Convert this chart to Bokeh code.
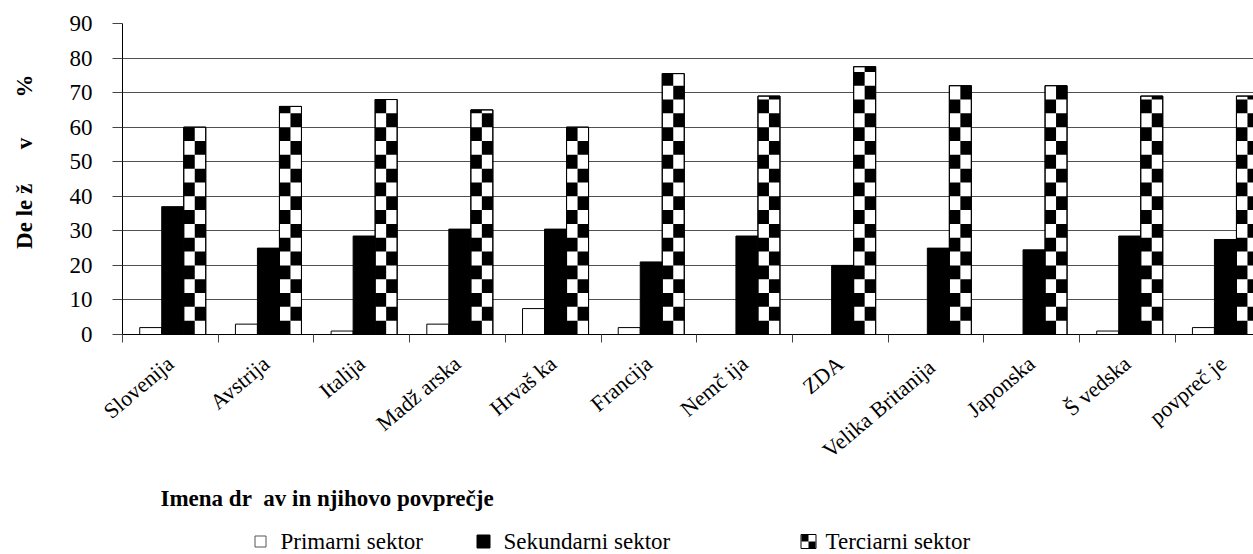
import numpy as np
from bokeh.plotting import figure
from bokeh.models import FixedTicker, Range1d
from bokeh.layouts import column
from bokeh.embed import file_html
from bokeh.resources import INLINE
from bokeh.core.properties import value

# ---------------- data ----------------
drzave = ["Slovenija", "Avstrija", "Italija", "Madž arska", "Hrvaš ka", "Francija",
          "Nemč ija", "ZDA", "Velika  Britanija", "Japonska", "Š vedska", "povpreč je"]
primarni = [2, 3, 1, 3, 7.5, 2, 0, 0, 0, 0, 1, 2]
sekundarni = [37, 25, 28.5, 30.5, 30.5, 21, 28.5, 20, 25, 24.5, 28.5, 27.5]
terciarni = [60, 66, 68, 65, 60, 75.5, 69, 77.5, 72, 72, 69, 69]
y_ticks = [0, 10, 20, 30, 40, 50, 60, 70, 80, 90]
legend_labels = ["Primarni sektor", "Sekundarni sektor", "Terciarni sektor"]
x_title = "Imena dr\u00a0\u00a0av in njihovo povprečje"
y_title = "\u00a0" * 6 + "De le ž" + "\u00a0" * 6 + "v" + "\u00a0" * 7 + "%"

FONT = "'Liberation Serif', serif"
W = 1253
FRAME_LEFT = 122
PX_PER_CAT = 95.7
n = len(drzave)
x_end = (W - FRAME_LEFT) / PX_PER_CAT

H1 = 476
p = figure(width=W, height=H1, x_range=Range1d(0, x_end), y_range=Range1d(0, 90),
           output_backend="svg", toolbar_location=None,
           min_border_left=FRAME_LEFT, min_border_right=0, min_border_top=23,
           min_border_bottom=H1 - 334)
p.outline_line_color = None

idx = np.arange(n)
bw = 0.23
p.vbar(x=idx + 0.295, top=primarni, width=bw, fill_color="white", line_color="black", line_width=1)
p.vbar(x=idx + 0.525, top=sekundarni, width=bw, fill_color="black", line_color="black", line_width=1)
xt = idx + 0.755
p.vbar(x=xt, top=terciarni, width=bw, fill_color="white", line_color="black", line_width=1)

# checker cells of the tertiary bars, derived from the values
row_h = 4.0
L, R, B, T = [], [], [], []
for c, v in zip(xt, terciarni):
    k = 0
    while k * row_h < v:
        b = k * row_h
        t = min(b + row_h, v)
        if k % 2 == 0:
            L.append(c - bw / 2); R.append(c)
        else:
            L.append(c); R.append(c + bw / 2)
        B.append(b); T.append(t)
        k += 1
p.quad(left=L, right=R, bottom=B, top=T, fill_color="black", line_color=None)
p.vbar(x=xt, top=terciarni, width=bw, fill_color=None, line_color="black", line_width=1)

# axes
p.xgrid.visible = False
p.ygrid.ticker = FixedTicker(ticks=y_ticks)
p.ygrid.grid_line_color = "#505050"
p.ygrid.grid_line_width = 1

p.yaxis.ticker = FixedTicker(ticks=y_ticks)
p.yaxis.axis_line_color = "black"
p.yaxis.major_tick_out = 10
p.yaxis.major_tick_in = 0
p.yaxis.major_tick_line_color = "#444444"
p.yaxis.minor_tick_line_color = None
p.yaxis.major_label_text_font = FONT
p.yaxis.major_label_text_font_size = "23px"
p.yaxis.major_label_text_color = "black"
p.yaxis.major_label_standoff = 20
p.yaxis.axis_label = y_title
p.yaxis.axis_label_text_font = FONT
p.yaxis.axis_label_text_font_size = "23px"
p.yaxis.axis_label_text_font_style = "bold"
p.yaxis.axis_label_text_color = "black"
p.yaxis.axis_label_standoff = 30

p.xaxis.ticker = FixedTicker(ticks=[float(i) + 0.5 for i in range(n)],
                             minor_ticks=[float(i) for i in range(n + 1)])
p.xaxis.major_label_overrides = {float(i) + 0.5: name for i, name in enumerate(drzave)}
p.xaxis.axis_line_color = "black"
p.xaxis.major_tick_line_color = None
p.xaxis.minor_tick_line_color = "#444444"
p.xaxis.minor_tick_out = 8
p.xaxis.minor_tick_in = 0
p.xaxis.major_label_orientation = 0.7
p.xaxis.major_label_standoff = 18
p.xaxis.major_label_text_font = FONT
p.xaxis.major_label_text_font_size = "22px"
p.xaxis.major_label_text_color = "black"

# ---------------- title + legend strip (x in page pixels) ----------------
H2 = 554 - H1
p2 = figure(width=W, height=H2, x_range=Range1d(FRAME_LEFT, W), y_range=Range1d(H2, 0),
            output_backend="svg", toolbar_location=None,
            x_axis_location=None, y_axis_location=None, min_border=0,
            min_border_left=FRAME_LEFT, min_border_right=0)
p2.outline_line_color = None
p2.grid.visible = False

p2.text(x=[160], y=[498 - H1], text=[x_title], text_font=value(FONT), text_font_style="bold",
        text_font_size="23px", text_baseline="middle", text_align="left", text_color="black")

ly = 541 - H1
icon_x = [260, 483, 808]
text_x = [280, 503, 825]
p2.rect(x=[icon_x[0]], y=[ly], width=11, height=11, width_units="screen", height_units="screen",
        fill_color="white", line_color="#555555")
p2.rect(x=[icon_x[1]], y=[ly], width=13, height=13, width_units="screen", height_units="screen",
        fill_color="black", line_color="black")
p2.rect(x=[icon_x[2]], y=[ly], width=15, height=14, width_units="screen", height_units="screen",
        fill_color="white", line_color="black")
p2.rect(x=[icon_x[2] - 3.5, icon_x[2] + 3.5], y=[ly - 3.5, ly + 3.5], width=7, height=7,
        width_units="screen", height_units="screen", fill_color="black", line_color=None)
p2.text(x=text_x, y=[ly] * 3, text=legend_labels, text_font=value(FONT),
        text_font_size="23px", text_baseline="middle", text_align="left", text_color="black")

layout = column(p, p2, spacing=0)
open("out.html", "w").write(file_html(layout, INLINE))
